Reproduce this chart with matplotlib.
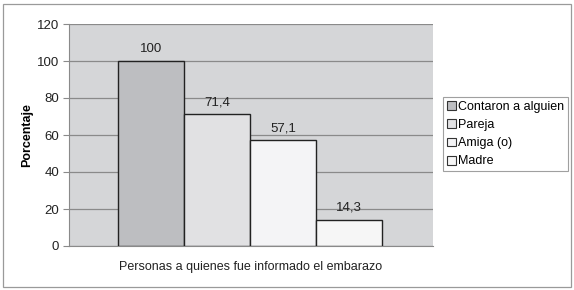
import matplotlib
matplotlib.use("Agg")
import matplotlib.pyplot as plt
import matplotlib.patches as mpatches

plt.rcParams["font.family"] = ["Liberation Sans", "DejaVu Sans"]

# Data
series = ["Contaron a alguien", "Pareja", "Amiga (o)", "Madre"]
values = [100, 71.4, 57.1, 14.3]
labels = ["100", "71,4", "57,1", "14,3"]
colors = ["#bdbec1", "#e1e1e3", "#f4f4f6", "#f6f6f6"]
yticks = [0, 20, 40, 60, 80, 100, 120]

fig = plt.figure(figsize=(5.74, 2.90), dpi=100)
fig.patch.set_facecolor("white")

# outer frame
fig.patches.append(mpatches.Rectangle((3 / 574, 3 / 290), 568 / 574, 283 / 290,
                                      transform=fig.transFigure, fill=False,
                                      edgecolor="#9a9a9a", linewidth=0.9))

ax = fig.add_axes([69 / 574, 1 - 246 / 290, 364 / 574, 222 / 290])
ax.set_facecolor("#d5d6d8")

x = list(range(len(values)))
bars = ax.bar(x, values, width=1.0, color=colors, edgecolor="#222222",
              linewidth=1.0, zorder=3)

for xi, v, lab in zip(x, values, labels):
    ax.text(xi, v + 3, lab, ha="center", va="bottom", fontsize=9.5,
            color="#222222", zorder=4)

ax.set_xlim(-1.25, 4.28)
ax.set_ylim(0, 120)
ax.set_yticks(yticks)
ax.set_yticklabels([str(t) for t in yticks], fontsize=9.5, color="#222222")
ax.set_xticks([])
ax.yaxis.grid(True, color="#8a8a8a", linewidth=0.9, zorder=1)
ax.set_axisbelow(True)
ax.tick_params(axis="y", length=4, color="#8a8a8a", pad=3)

for side in ["top", "right"]:
    ax.spines[side].set_visible(False)
ax.spines["left"].set_color("#8a8a8a")
ax.spines["bottom"].set_color("#8a8a8a")

ax.set_ylabel("Porcentaje", fontsize=9, fontweight="bold", labelpad=3)
ax.set_xlabel("Personas a quienes fue informado el embarazo", fontsize=9,
              color="#222222", labelpad=11)

handles = [mpatches.Patch(facecolor=c, edgecolor="#333333", linewidth=0.8, label=s)
           for c, s in zip(colors, series)]
leg = fig.legend(handles=handles, loc="upper left",
                 bbox_to_anchor=(443 / 574, 1 - 97 / 290), fontsize=9,
                 frameon=True, fancybox=False, handlelength=0.7,
                 handleheight=0.7, handletextpad=0.2, borderpad=0.3,
                 labelspacing=0.5, borderaxespad=0)
leg.get_frame().set_edgecolor("#888888")
leg.get_frame().set_linewidth(0.8)

fig.savefig("out.png", dpi=100)
